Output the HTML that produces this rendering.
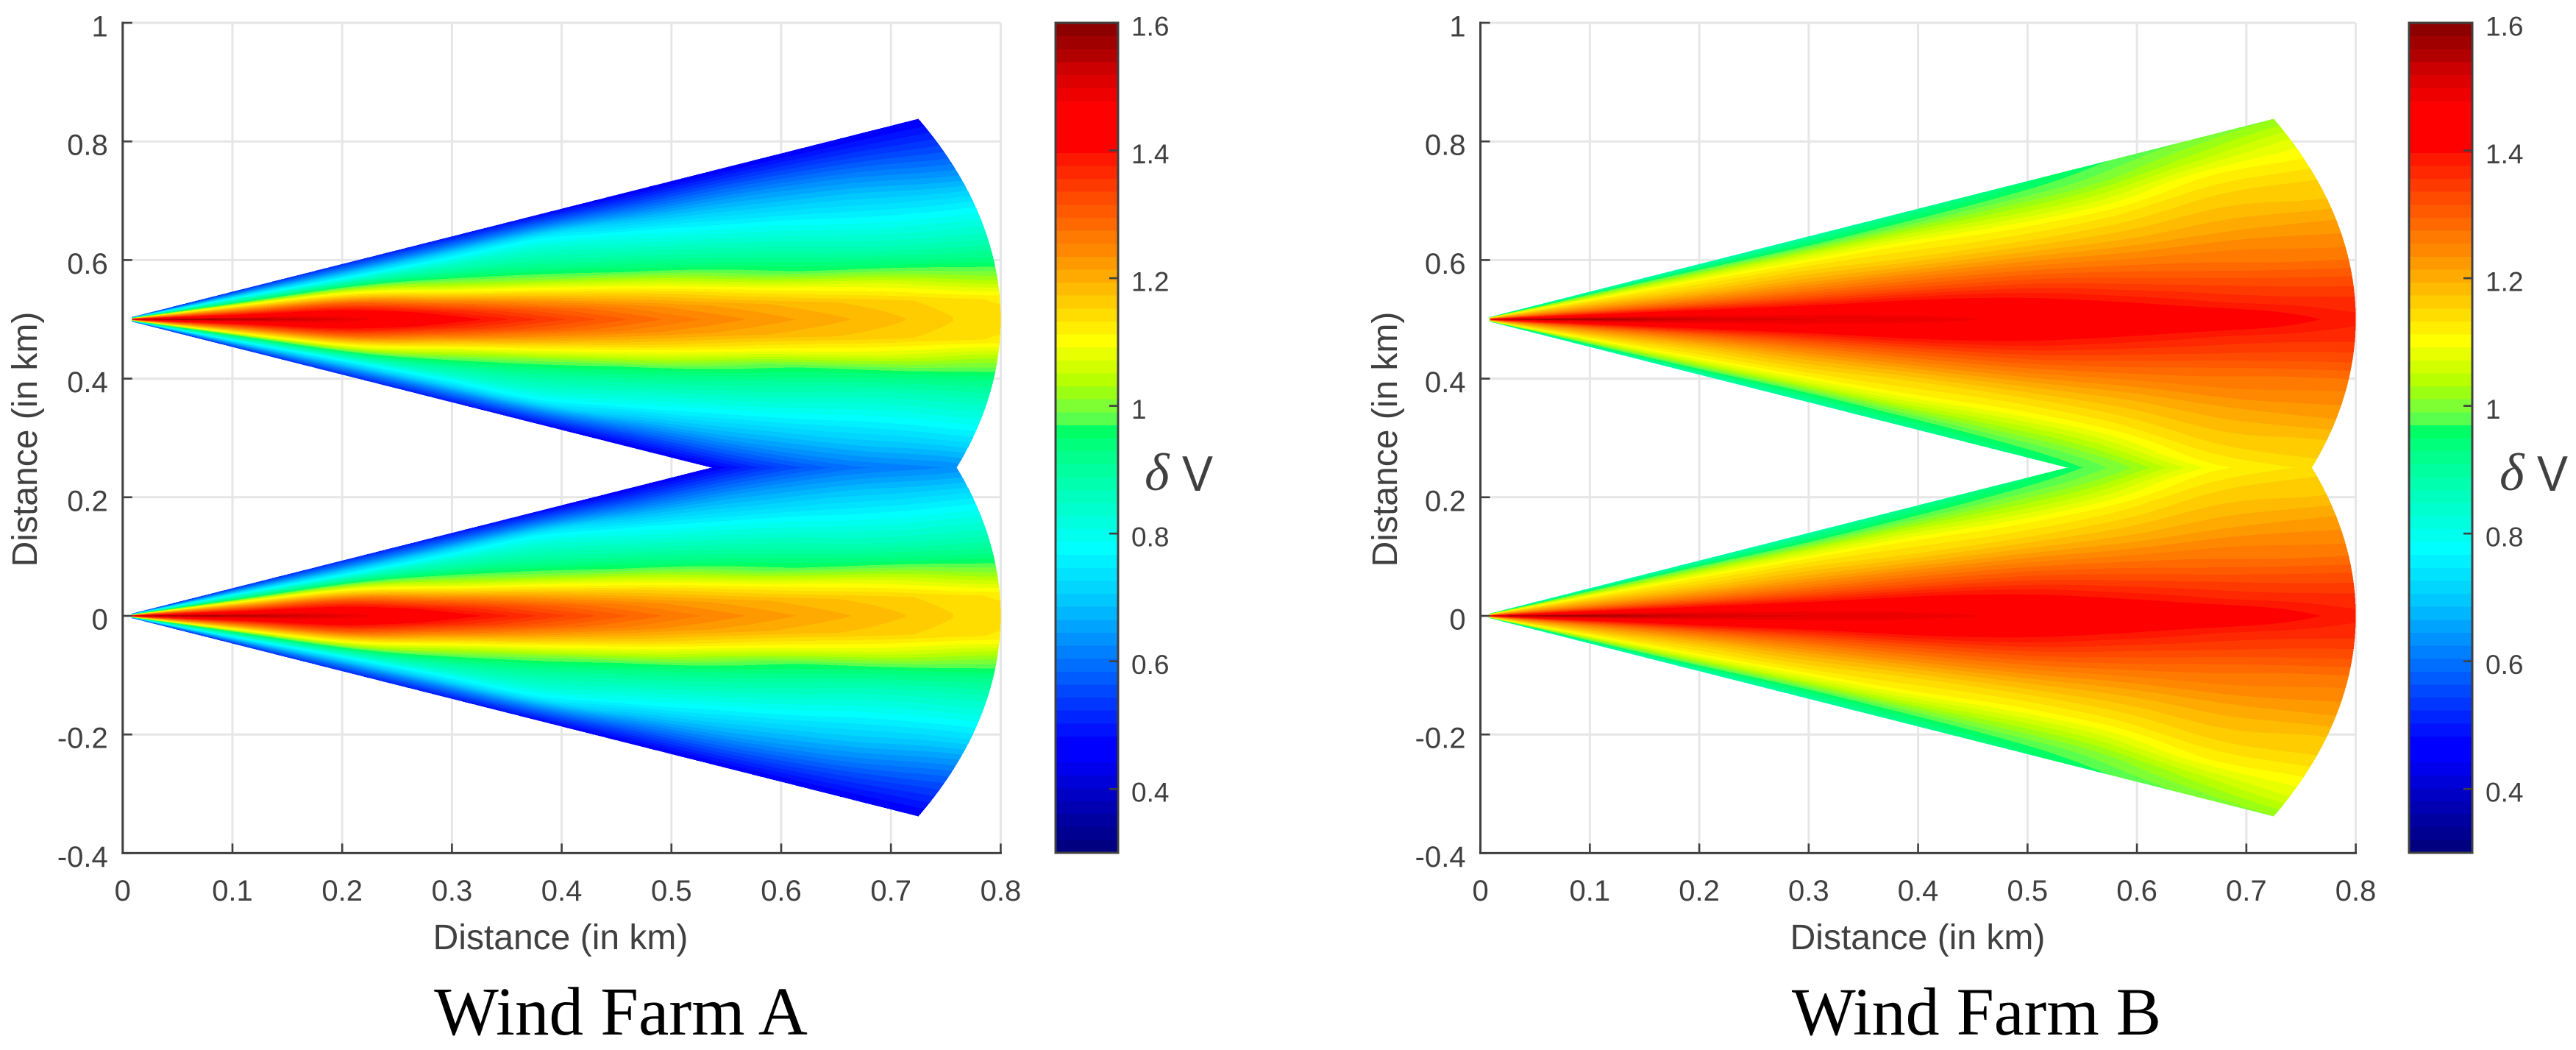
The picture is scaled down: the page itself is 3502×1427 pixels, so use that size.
<!DOCTYPE html>
<html lang="en">
<head>
<meta charset="utf-8">
<title>Wind Farm A and Wind Farm B velocity deficit maps</title>
<style>
  html, body { margin: 0; padding: 0; background: #ffffff; }
  svg { display: block; }
  text { font-family: "Liberation Sans", Arial, sans-serif; fill: #404040; }
  .farm-title { font-family: "Liberation Serif", serif; fill: #000000; }
  .delta { font-family: "Liberation Serif", serif; font-style: italic; }
</style>
</head>
<body>
<svg id="figure" xmlns="http://www.w3.org/2000/svg" width="3502" height="1427" viewBox="0 0 3502 1427">
  <g id="panel-a">
    <text x="762" y="1290" font-size="48" text-anchor="middle">Distance (in km)</text>
    <text transform="translate(50,597) rotate(-90)" font-size="48" text-anchor="middle">Distance (in km)</text>
    <text class="farm-title" x="844" y="1406" font-size="93" text-anchor="middle">Wind Farm A</text>
    <text class="delta" x="1556" y="666" font-size="72">δ</text>
    <text x="1607" y="667" font-size="68" textLength="42" lengthAdjust="spacingAndGlyphs">V</text>
  </g>
  <g id="panel-b">
    <text x="2607" y="1290" font-size="48" text-anchor="middle">Distance (in km)</text>
    <text transform="translate(1899,597) rotate(-90)" font-size="48" text-anchor="middle">Distance (in km)</text>
    <text class="farm-title" x="2687" y="1406" font-size="92" text-anchor="middle">Wind Farm B</text>
    <text class="delta" x="3398" y="666" font-size="72">δ</text>
    <text x="3449" y="667" font-size="68" textLength="42" lengthAdjust="spacingAndGlyphs">V</text>
  </g>
</svg>

<script>
// ---- axis ticks -----
const xTicks = [0, 0.1, 0.2, 0.3, 0.4, 0.5, 0.6, 0.7, 0.8];
const xTickLabels = ['0', '0.1', '0.2', '0.3', '0.4', '0.5', '0.6', '0.7', '0.8'];
const yTicks = [-0.4, -0.2, 0, 0.2, 0.4, 0.6, 0.8, 1];
const yTickLabels = ['-0.4', '-0.2', '0', '0.2', '0.4', '0.6', '0.8', '1'];
const colorTicks = [0.4, 0.6, 0.8, 1, 1.2, 1.4, 1.6];
const colorTickLabels = ['0.4', '0.6', '0.8', '1', '1.2', '1.4', '1.6'];

// ---- fan (sector) sources: y of each turbine row apex, in km -----
const fanCentres = [0.5, 0];
const fanOuterRadius = 0.8;
const fanHalfAngleDeg = 25;
const fanSplitY = 0.25;

// ---- field stations: radial distance (km) and fraction of the half angle -----
const fieldRadii = [0.009, 0.05, 0.1, 0.2, 0.3, 0.4, 0.5, 0.6, 0.7, 0.8];
const fieldAngles = [0, 0.1, 0.2, 0.3, 0.4, 0.5, 0.6, 0.7, 0.8, 0.9, 1];

// ---- delta V; one row per radius, one column per angle ---------------------------
const farmAField = [
  [1.60, 1.46, 1.37, 1.28, 1.19, 1.10, 0.96, 0.86, 0.75, 0.62, 0.52],
  [1.58, 1.46, 1.37, 1.28, 1.19, 1.10, 0.96, 0.86, 0.75, 0.62, 0.52],
  [1.56, 1.45, 1.37, 1.28, 1.19, 1.10, 0.96, 0.86, 0.75, 0.63, 0.52],
  [1.50, 1.45, 1.38, 1.30, 1.19, 1.09, 0.97, 0.85, 0.73, 0.62, 0.52],
  [1.42, 1.37, 1.28, 1.17, 1.07, 0.99, 0.91, 0.84, 0.74, 0.61, 0.50],
  [1.34, 1.29, 1.20, 1.10, 1.00, 0.93, 0.88, 0.83, 0.76, 0.61, 0.48],
  [1.27, 1.23, 1.15, 1.05, 0.95, 0.89, 0.83, 0.77, 0.68, 0.57, 0.46],
  [1.22, 1.19, 1.10, 0.98, 0.91, 0.85, 0.79, 0.72, 0.65, 0.56, 0.46],
  [1.18, 1.16, 1.07, 0.95, 0.87, 0.81, 0.75, 0.69, 0.62, 0.54, 0.46],
  [1.14, 1.13, 1.02, 0.93, 0.86, 0.80, 0.73, 0.65, 0.58, 0.52, 0.46]
];
const farmBField = [
  [1.60, 1.46, 1.38, 1.30, 1.24, 1.20, 1.16, 1.12, 1.06, 0.96, 0.88],
  [1.59, 1.46, 1.38, 1.30, 1.24, 1.20, 1.16, 1.12, 1.06, 0.96, 0.88],
  [1.57, 1.47, 1.38, 1.30, 1.24, 1.20, 1.16, 1.12, 1.06, 0.98, 0.88],
  [1.52, 1.46, 1.38, 1.30, 1.24, 1.19, 1.15, 1.12, 1.06, 0.98, 0.88],
  [1.50, 1.46, 1.38, 1.31, 1.25, 1.20, 1.16, 1.12, 1.06, 0.97, 0.89],
  [1.49, 1.45, 1.39, 1.32, 1.26, 1.20, 1.15, 1.12, 1.06, 0.98, 0.91],
  [1.47, 1.43, 1.38, 1.32, 1.26, 1.20, 1.15, 1.11, 1.05, 0.99, 0.93],
  [1.45, 1.40, 1.35, 1.30, 1.25, 1.20, 1.16, 1.12, 1.06, 1.00, 0.96],
  [1.43, 1.37, 1.33, 1.28, 1.25, 1.21, 1.18, 1.15, 1.11, 1.04, 0.99],
  [1.385, 1.36, 1.32, 1.27, 1.24, 1.21, 1.17, 1.15, 1.11, 1.07, 1.01]
];

// ---- colour scale, 64 bands from 0.3 to 1.6 -----
const colorMin = 0.3;
const colorMax = 1.6;
const colormap = [
  [0,0,128],[0,0,144],[0,0,160],[0,0,178],[0,0,196],[0,0,216],[0,0,236],[0,0,255],
  [0,0,255],[0,18,255],[0,36,255],[0,54,255],[0,72,255],[0,92,255],[0,110,255],[0,128,255],
  [0,146,255],[0,164,255],[0,182,255],[0,200,255],[0,214,255],[0,226,255],[0,240,255],[0,255,255],
  [0,255,238],[0,255,222],[0,255,206],[0,255,190],[0,255,174],[0,255,158],[0,255,140],[0,255,122],
  [0,255,100],[90,255,78],[125,255,52],[155,255,20],[184,255,0],[210,255,0],[232,255,0],[255,255,0],
  [255,238,0],[255,221,0],[255,204,0],[255,187,0],[255,170,0],[255,153,0],[255,136,0],[255,122,0],
  [255,105,0],[255,90,0],[255,75,0],[255,58,0],[255,40,0],[255,24,0],[255,0,0],[255,0,0],
  [255,0,0],[255,0,0],[238,0,0],[222,0,0],[204,0,0],[178,0,0],[160,0,0],[142,0,0]
];

const SVG_NS = 'http://www.w3.org/2000/svg';
const axisColor = '#404040';
const gridColor = '#e6e6e6';
const plotTop = 31;
const plotBottom = 1159.4;
const yMin = -0.4;
const yMax = 1;
const xMin = 0;
const xMax = 0.8;

function svgEl(tag, parent, attrs) {
  const el = document.createElementNS(SVG_NS, tag);
  for (const k in attrs) el.setAttribute(k, attrs[k]);
  parent.appendChild(el);
  return el;
}

// Smooth (Catmull-Rom) shading between the radial stations of the table.
function profileAtRadius(table, r) {
  let i = 0;
  while (i < fieldRadii.length - 2 && r > fieldRadii[i + 1]) i++;
  const f = (r - fieldRadii[i]) / (fieldRadii[i + 1] - fieldRadii[i]);
  const prev = table[Math.max(i - 1, 0)];
  const cur = table[i];
  const next = table[i + 1];
  const after = table[Math.min(i + 2, table.length - 1)];
  return cur.map(function (_, j) {
    const p0 = prev[j], p1 = cur[j], p2 = next[j], p3 = after[j];
    return 0.5 * (2 * p1 + (p2 - p0) * f + (2 * p0 - 5 * p1 + 4 * p2 - p3) * f * f + (3 * p1 - p0 - 3 * p2 + p3) * f * f * f);
  });
}

function crossing(profile, level) {
  if (profile[0] < level) return -1;
  for (let j = 0; j < profile.length - 1; j++) {
    if (profile[j + 1] < level) {
      const frac = (profile[j] - level) / (profile[j] - profile[j + 1]);
      return fieldAngles[j] + frac * (fieldAngles[j + 1] - fieldAngles[j]);
    }
  }
  return 1;
}

function drawFan(group, table, centre, xScale, yScale, clipId) {
  const halfAngle = fanHalfAngleDeg * Math.PI / 180;
  const rStart = fieldRadii[0];
  const steps = 220;
  const pt = function (r, t, cy) {
    const th = t * halfAngle;
    return xScale(r * Math.cos(th)).toFixed(1) + ' ' + yScale(cy + r * Math.sin(th)).toFixed(1);
  };
  for (let k = 0; k < colormap.length; k++) {
    const level = colorMin + k * (colorMax - colorMin) / colormap.length;
    let d = '';
    let run = [];
    const flush = function () {
      if (run.length < 2) { run = []; return; }
      const up = run.map(function (p) { return pt(p[0], p[1], centre); });
      const down = run.slice().reverse().map(function (p) { return pt(p[0], -p[1], centre); });
      const last = run[run.length - 1];
      const arc = [];
      if (Math.abs(last[0] - fanOuterRadius) < 1e-6) {
        for (let a = 1; a < 60; a++) arc.push(pt(last[0], last[1] * (1 - 2 * a / 60), centre));
      }
      d += 'M' + up.concat(arc, down).join('L') + 'Z';
      run = [];
    };
    for (let s = 0; s <= steps; s++) {
      const r = rStart + (fanOuterRadius - rStart) * s / steps;
      const t = crossing(profileAtRadius(table, r), level);
      if (t < 0) flush(); else run.push([r, t]);
    }
    flush();
    if (!d) continue;
    const band = svgEl('path', group, {
      d: d,
      fill: 'rgb(' + colormap[k].join(',') + ')',
      'shape-rendering': 'crispEdges',
      'clip-path': 'url(#' + clipId + ')'
    });
    
    
  }
}

function drawPanel(group, table, suffix, x0, x1, cbLeft, cbRight) {
  const xScale = function (v) { return x0 + (v - xMin) / (xMax - xMin) * (x1 - x0); };
  const yScale = function (v) { return plotBottom - (v - yMin) / (yMax - yMin) * (plotBottom - plotTop); };
  const cScale = function (v) { return 1159 - (v - colorMin) / (colorMax - colorMin) * 1128; };

  // grid
  xTicks.forEach(function (v) {
    const line = svgEl('line', group, { x1: xScale(v), x2: xScale(v), y1: plotTop, y2: plotBottom, stroke: gridColor, 'stroke-width': 3 });
    
    
  });
  yTicks.forEach(function (v) {
    const line = svgEl('line', group, { x1: x0, x2: x1, y1: yScale(v), y2: yScale(v), stroke: gridColor, 'stroke-width': 3 });
    
    
  });

  // field: two fans meeting along the split line
  const defs = svgEl('defs', group, {});
  const splitPx = Math.round(yScale(fanSplitY));
  fanCentres.forEach(function (centre, idx) {
    const clipId = 'clip-' + suffix + '-' + idx;
    const clip = svgEl('clipPath', defs, { id: clipId });
    svgEl('rect', clip, idx === 0
      ? { x: x0 - 10, y: plotTop - 10, width: x1 - x0 + 20, height: splitPx - plotTop + 10 }
      : { x: x0 - 10, y: splitPx, width: x1 - x0 + 20, height: plotBottom - splitPx + 10 });
    const fan = svgEl('g', group, {});
    
    
    drawFan(fan, table, centre, xScale, yScale, clipId);
  });

  // axes
  const yAxis = svgEl('line', group, { x1: x0, x2: x0, y1: plotTop - 1.5, y2: plotBottom + 1.5, stroke: axisColor, 'stroke-width': 3 });
  
  
  const xAxis = svgEl('line', group, { x1: x0 - 1.5, x2: x1 + 1.5, y1: plotBottom, y2: plotBottom, stroke: axisColor, 'stroke-width': 3 });
  
  

  xTicks.forEach(function (v, i) {
    const tick = svgEl('line', group, { x1: xScale(v), x2: xScale(v), y1: plotBottom, y2: plotBottom - 13, stroke: axisColor, 'stroke-width': 2.6 });
    
    
    const label = svgEl('text', group, { x: xScale(v), y: 1224, 'font-size': 40, 'text-anchor': 'middle' });
    label.textContent = xTickLabels[i];
    
    
  });
  yTicks.forEach(function (v, i) {
    const tick = svgEl('line', group, { x1: x0, x2: x0 + 13, y1: yScale(v), y2: yScale(v), stroke: axisColor, 'stroke-width': 2.6 });
    
    
    const label = svgEl('text', group, { x: x0 - 20, y: yScale(v) + 18.5, 'font-size': 40, 'text-anchor': 'end' });
    label.textContent = yTickLabels[i];
    
    
  });

  // colour bar
  colormap.forEach(function (c, k) {
    const lo = colorMin + k * (colorMax - colorMin) / colormap.length;
    const hi = colorMin + (k + 1) * (colorMax - colorMin) / colormap.length;
    const cell = svgEl('rect', group, {
      x: cbLeft, width: cbRight - cbLeft, y: cScale(hi), height: cScale(lo) - cScale(hi) + 0.5,
      fill: 'rgb(' + c.join(',') + ')', 'shape-rendering': 'crispEdges'
    });
    
    
  });
  const frame = svgEl('rect', group, { x: cbLeft, y: cScale(colorMax), width: cbRight - cbLeft, height: cScale(colorMin) - cScale(colorMax), fill: 'none', stroke: axisColor, 'stroke-width': 3 });
  
  
  colorTicks.forEach(function (v, i) {
    const tick = svgEl('line', group, { x1: cbRight - 12, x2: cbRight, y1: cScale(v), y2: cScale(v), stroke: axisColor, 'stroke-width': 2.6 });
    
    
    const label = svgEl('text', group, { x: cbRight + 18, y: cScale(v) + 17.5, 'font-size': 37 });
    label.textContent = colorTickLabels[i];
    
    
  });
}

drawPanel(document.getElementById('panel-a'), farmAField, 'a', 166.8, 1360.4, 1435, 1520);
drawPanel(document.getElementById('panel-b'), farmBField, 'b', 2012.6, 3202.6, 3275, 3361);
</script>
</body>
</html>
